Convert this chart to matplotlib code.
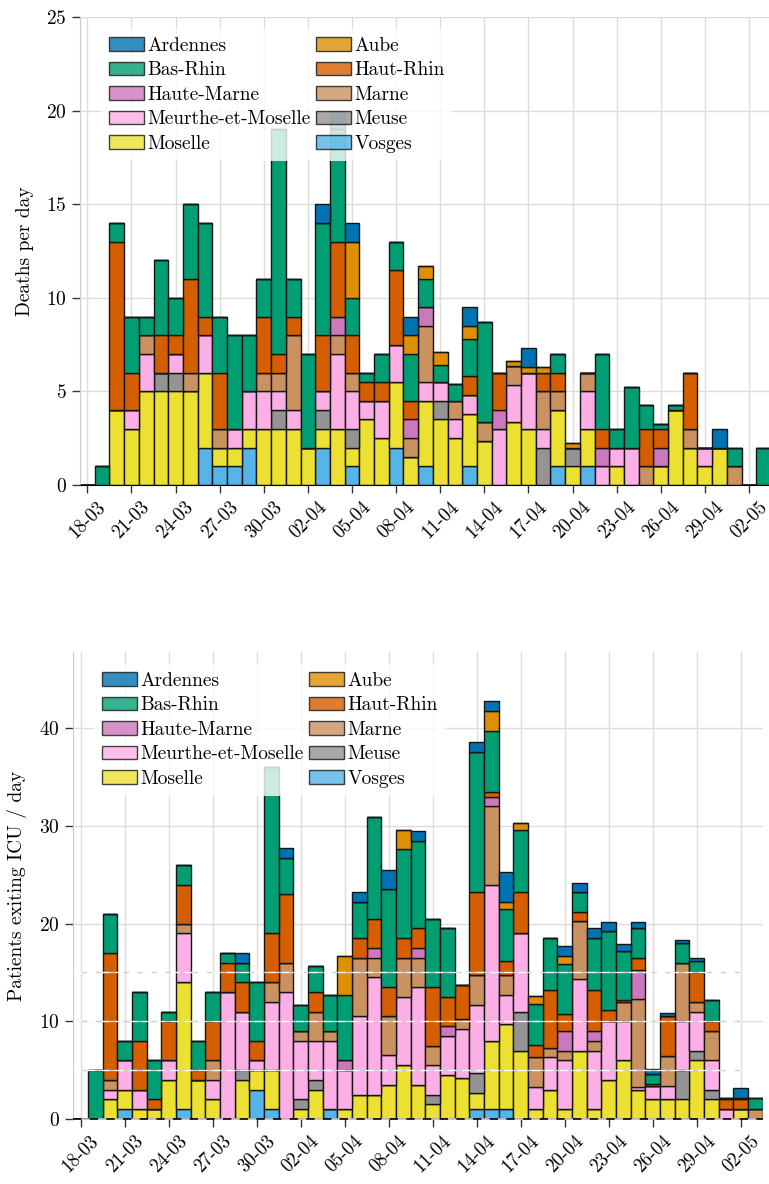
import numpy as np
import pandas as pd
import matplotlib
matplotlib.use("Agg")
import matplotlib.pyplot as plt

# one value per day, 18-03 .. 03-05
dates = pd.date_range("2020-03-18", periods=47)

regions = ["Vosges", "Moselle", "Meuse", "Meurthe-et-Moselle", "Marne",
           "Haute-Marne", "Haut-Rhin", "Bas-Rhin", "Aube", "Ardennes"]
colors = {
    "Ardennes": "#0173b2", "Aube": "#de8f05", "Bas-Rhin": "#029e73",
    "Haut-Rhin": "#d55e00", "Haute-Marne": "#cc78bc", "Marne": "#ca9161",
    "Meurthe-et-Moselle": "#fbafe4", "Meuse": "#949494", "Moselle": "#ece133",
    "Vosges": "#56b4e9",
}
legend_order = ["Ardennes", "Bas-Rhin", "Haute-Marne", "Meurthe-et-Moselle", "Moselle",
                "Aube", "Haut-Rhin", "Marne", "Meuse", "Vosges"]

# --- deaths per day ---
vosges_d = [0, 0, 0, 0, 0, 0, 0, 0, 2, 1,
            1, 2, 0, 0, 0, 0, 2, 0, 1, 0,
            0, 2, 0, 1, 0, 0, 1, 0, 0, 0,
            0, 0, 1, 0, 1, 0, 0, 0, 0, 0,
            0, 0, 0, 0, 0, 0, 0]
moselle_d = [0, 0, 4, 3, 5, 5, 5, 5, 4, 1,
             1, 1, 3, 3, 3, 2, 1, 3, 1, 3.5,
             2.5, 3.5, 1.5, 3.5, 3.5, 2.5, 2.8, 2.35, 0, 3.35,
             3, 0, 3, 1, 2, 0, 1, 0, 0, 1,
             4, 2, 1, 2, 0, 0, 0]
meuse_d = [0, 0, 0, 0, 0, 1, 1, 0, 0, 0,
           0, 0, 0, 1, 0, 0, 1, 0, 1, 0,
           0, 0, 0, 0, 1, 0, 0, 0, 0, 0,
           0, 2, 0, 1, 0, 0, 0, 0, 0, 0,
           0, 0, 0, 0, 0, 0, 0]
meurthe_d = [0, 0, 0, 1, 2, 0, 1, 0, 2, 0,
             1, 2, 2, 1, 1, 0, 1, 4, 2, 1,
             2, 2, 0, 1, 1, 1, 1, 0, 3, 2,
             3, 1, 0, 0, 2, 1, 1, 2, 0, 0,
             0, 0, 1, 0, 0, 0, 0]
marne_d = [0, 0, 0, 0, 1, 0, 0, 1, 0, 1,
           0, 0, 1, 1, 4, 0, 0, 1, 1, 0,
           0, 0, 1, 3, 0, 1, 0, 1, 0, 1,
           0, 2, 1, 0, 1, 0, 0, 0, 1, 0,
           0, 1, 0, 0, 1, 0, 0]
hmarne_d = [0, 0, 0, 0, 0, 0, 0, 0, 0, 0,
            0, 0, 0, 0, 0, 0, 0, 1, 0, 0,
            0, 0, 1, 1, 0, 0, 0, 0, 1, 0,
            0, 0, 0, 0, 0, 1, 0, 0, 0, 1,
            0, 0, 0, 0, 0, 0, 0]
hrhin_d = [0, 0, 9, 2, 0, 2, 1, 5, 1, 3,
           0, 0, 3, 1, 1, 0, 3, 4, 2, 1,
           1, 4, 1, 0, 0, 0, 1, 0, 2, 0,
           0, 1, 1, 0, 0, 1, 0, 0, 2, 1,
           0, 3, 0, 0, 0, 0, 0]
brhin_d = [0, 1, 1, 3, 1, 4, 2, 4, 5, 3,
           5, 3, 2, 12, 2, 5, 6, 6, 2, 0.5,
           1.5, 1.5, 2.5, 1.5, 0.9, 0.9, 2, 5.35, 0, 0,
           0, 0, 1, 0, 0, 4, 1, 3.25, 1.3, 0.27,
           0.3, 0, 0, 0, 1, 0, 2]
aube_d = [0, 0, 0, 0, 0, 0, 0, 0, 0, 0,
          0, 0, 0, 0, 0, 0, 0, 0, 3, 0,
          0, 0, 1, 0.7, 0.7, 0, 0.7, 0, 0, 0.25,
          0.3, 0.3, 0, 0.25, 0, 0, 0, 0, 0, 0,
          0, 0, 0, 0, 0, 0, 0]
ardennes_d = [0, 0, 0, 0, 0, 0, 0, 0, 0, 0,
              0, 0, 0, 0, 0, 0, 1, 1, 1, 0,
              0, 0, 1, 0, 0, 0, 1, 0, 0, 0,
              1, 0, 0, 0, 0, 0, 0, 0, 0, 0,
              0, 0, 0, 1, 0, 0, 0]

# --- patients leaving ICU per day ---
vosges_i = [0, 0, 0, 1, 0, 0, 0, 1, 0, 0,
            0, 0, 3, 1, 0, 0, 0, 1, 0, 0,
            0, 0, 0, 0, 0, 0, 0, 1, 1, 1,
            0, 0, 0, 0, 0, 0, 0, 0, 0, 0,
            0, 0, 0, 0, 0, 0, 0]
moselle_i = [0, 0, 2, 2, 1, 1, 4, 13, 4, 2,
             0, 4, 2, 4, 0, 1, 3, 0, 1, 2.5,
             2.5, 3.5, 5.5, 3.5, 1.5, 4.5, 4.2, 1.7, 7, 8.7,
             7, 1, 3, 1, 7, 1, 4, 6, 3, 2,
             2, 2, 6, 2, 0, 1, 0]
meuse_i = [0, 0, 0, 0, 0, 0, 0, 0, 0, 0,
           0, 1, 0, 0, 0, 1, 1, 0, 0, 0,
           0, 0, 0, 0, 1, 0, 0, 2, 0, 0,
           4, 0, 0, 0, 0, 0, 0, 0, 0, 0,
           0, 3, 1, 1, 0, 0, 0]
meurthe_i = [0, 0, 1, 3, 2, 0, 2, 5, 0, 2,
             13, 6, 1, 7, 13, 6, 4, 7, 4, 8,
             12, 3, 7, 10, 3, 4, 5, 7, 16, 3,
             8, 2.3, 3.3, 5, 7.3, 6, 6, 4, 0.3, 1.4,
             1.4, 5, 4, 3, 1, 0, 0]
marne_i = [0, 0, 1, 0, 0, 0, 0, 1, 0, 2,
           0, 0, 0, 2, 3, 1, 3, 1, 0, 6,
           2, 4, 4, 3, 2, 0, 1, 3, 8, 2,
           0, 3, 1, 1, 6, 1, 0, 2, 9, 0,
           3, 6, 1, 3, 0, 0, 1]
hmarne_i = [0, 0, 0, 0, 0, 0, 0, 0, 0, 0,
            0, 0, 0, 0, 0, 0, 0, 0, 1, 0,
            1, 0, 0, 1, 0, 1, 0, 0, 1, 0,
            0, 0, 0, 2, 0, 1, 0, 0, 3, 0,
            0, 0, 0, 0, 0, 0, 0]
hrhin_i = [0, 0, 13, 0, 5, 1, 4, 4, 1, 4,
           3, 3, 2, 5, 7, 0, 2, 0, 0, 2,
           3, 3, 2, 2, 6, 3, 3.5, 8.5, 0.5, 1.5,
           4.25, 1.25, 5.9, 1.7, 0.9, 4.2, 1.2, 0.2, 1.2, 0.2,
           4.1, 0, 3, 1, 1, 1, 0]
brhin_i = [0, 5, 4, 2, 5, 4, 1, 2, 3, 3,
           1, 2, 6, 17, 3.7, 2.7, 2.7, 3.7, 6.7, 3.7,
           10.4, 10, 9.1, 9, 7, 7, 0, 14.4, 6.25, 5.3,
           6.3, 4.25, 5.3, 5.2, 2.05, 5.3, 8, 5, 3, 1,
           0, 2, 1.2, 2.2, 0.2, 0.2, 1.2]
aube_i = [0, 0, 0, 0, 0, 0, 0, 0, 0, 0,
          0, 0, 0, 0, 0, 0, 0, 0, 4, 0,
          0, 0, 2, 0, 0, 0, 0, 0, 2, 0.75,
          0.75, 0.8, 0, 0.8, 0, 0, 0, 0, 0, 0,
          0, 0, 0, 0, 0, 0, 0]
ardennes_i = [0, 0, 0, 0, 0, 0, 0, 0, 0, 0,
              0, 1, 0, 0, 1, 0, 0, 0, 0, 1,
              0, 2, 0, 1, 0, 0, 0, 1, 1, 3,
              0, 0, 0, 1, 0.95, 1, 1, 0.7, 0.7, 0.55,
              0.35, 0.35, 0.3, 0, 0, 1, 0]

deaths = dict(zip(regions, [vosges_d, moselle_d, meuse_d, meurthe_d, marne_d,
                            hmarne_d, hrhin_d, brhin_d, aube_d, ardennes_d]))
icu_exits = dict(zip(regions, [vosges_i, moselle_i, meuse_i, meurthe_i, marne_i,
                               hmarne_i, hrhin_i, brhin_i, aube_i, ardennes_i]))

plt.rcParams.update({
    "font.family": "serif",
    "font.serif": ["cmr10"],
    "mathtext.fontset": "cm",
    "axes.formatter.use_mathtext": True,
    "font.size": 14,
})


def stacked(ax, data, ylabel, ymax, ystep):
    x = np.arange(len(dates))
    bottom = np.zeros(len(dates))
    bars = {}
    for reg in regions:
        vals = np.asarray(data[reg], dtype=float)
        bars[reg] = ax.bar(x, vals, width=1.0, bottom=bottom, color=colors[reg],
                           edgecolor="#151515", linewidth=1.0, label=reg, zorder=2)
        bottom += vals

    ax.set_xlim(-0.5, len(dates) - 0.5)
    ax.set_ylim(0, ymax)
    ticks = x[::3]
    ax.set_xticks(ticks)
    ax.set_xticklabels([dates[i].strftime("%d-%m") for i in ticks],
                       rotation=45, fontsize=13.5)
    ax.set_yticks(np.arange(0, ymax + 0.01, ystep))
    ax.set_ylabel(ylabel, labelpad=9)

    ax.set_axisbelow(True)
    ax.grid(True, color="#dcdcdc", linewidth=1.0)
    ax.tick_params(direction="out", length=6, width=1, color="0.2")
    ax.tick_params(axis="y", labelsize=14)
    for s in ["top", "right"]:
        ax.spines[s].set_visible(False)
    ax.spines["left"].set_color("#cccccc")
    ax.spines["bottom"].set_color("black")

    leg = ax.legend([bars[r] for r in legend_order], legend_order, ncol=2,
                    loc="upper left", bbox_to_anchor=(0.016, 0.995),
                    framealpha=0.8, edgecolor="none", fancybox=False,
                    handlelength=1.8, handleheight=0.7, handletextpad=0.2,
                    columnspacing=0.25, labelspacing=0.34, borderpad=0.4)
    leg.set_zorder(5)
    for h in leg.legend_handles:
        h.set_alpha(0.8)
    return ax


fig = plt.figure(figsize=(7.69, 11.84), dpi=100)
ax1 = fig.add_axes([80 / 769, (1184 - 485) / 1184, 691 / 769, 468 / 1184])
ax2 = fig.add_axes([73.3 / 769, (1184 - 1119) / 1184, 689.5 / 769, 467 / 1184])

stacked(ax1, deaths, "Deaths per day", 25, 5)
stacked(ax2, icu_exits, "Patients exiting ICU / day", 47.8, 10)

# reference levels on the ICU panel
xmax = (45 + 0.5) / len(dates)
for lvl in [5, 10, 15]:
    ax2.axhline(lvl, xmax=xmax, color="white", linestyle=(0, (6, 4)),
                gapcolor="#d0d0d0", linewidth=1.0, zorder=3)
ax2.spines["bottom"].set_visible(False)
ax2.axhline(0, color="black", linestyle=(0, (5, 5)), gapcolor="#bbbbbb",
            linewidth=1.2, zorder=3, clip_on=False)

fig.savefig("out.png", dpi=100)
